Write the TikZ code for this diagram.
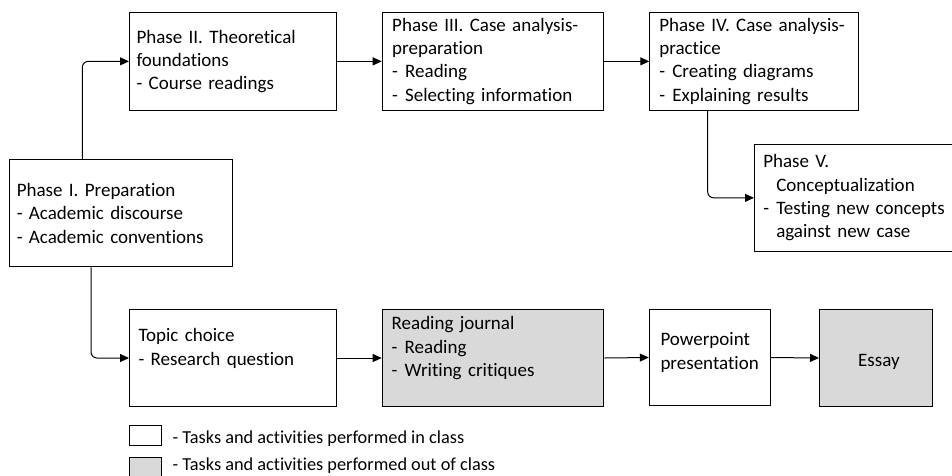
\documentclass[tikz,border=0pt]{standalone}
\usepackage{fontspec}
\setmainfont{Carlito}[Ligatures={NoCommon}]
\usetikzlibrary{arrows.meta}
\definecolor{boxgray}{HTML}{D9D9D9}
\newcommand\dashitem[1]{\mbox{\makebox[13pt][l]{-}#1}}
\tikzset{
  box/.style={draw=black, line width=1pt, inner ysep=0pt, align=left, anchor=north west,
    font=\fontsize{19}{23.3}\selectfont},
  arr/.style={draw=black, line width=1pt, -{Triangle[length=9pt,width=8pt]}},
  elbow/.style={arr, rounded corners=6pt},
  legtext/.style={anchor=base west, inner sep=0pt, font=\fontsize{18.3}{22}\selectfont},
  legbox/.style={draw=black, line width=1pt}
}
\begin{document}
\begin{tikzpicture}[x=1pt,y=-1pt]
\useasboundingbox (0,0) rectangle (952,475);
% top row
\node[box, minimum width=223pt, minimum height=107pt, text width=209pt, inner xsep=7pt] (p1) at (9.3,159.3)
  {Phase I. Preparation\\- Academic discourse\\- Academic conventions};
\node[box, minimum width=206.7pt, minimum height=98.3pt, text width=192.7pt, inner xsep=7pt] (p2) at (129,11.7)
  {Phase II. Theoretical\\foundations\\- Course readings};
\node[box, minimum width=221.6pt, minimum height=98.3pt, text width=201.6pt, inner xsep=10pt] (p3) at (381.7,11.7)
  {Phase III. Case analysis-\\preparation\\\dashitem{Reading}\\\dashitem{Selecting information}};
\node[box, minimum width=208.4pt, minimum height=98.3pt, text width=189.4pt, inner xsep=9.5pt] (p4) at (649.3,11.7)
  {Phase IV. Case analysis-\\practice\\\dashitem{Creating diagrams}\\\dashitem{Explaining results}};
\node[box, minimum width=197.5pt, minimum height=106.7pt, text width=180pt, inner xsep=8.75pt] (p5) at (754,144)
  {Phase V.\\\hspace*{13pt}Conceptualization\\\dashitem{Testing new concepts}\\\hspace*{13pt}against new case};
% bottom row
\node[box, minimum width=206.7pt, minimum height=96.4pt, text width=188.7pt, inner xsep=9pt] (topic) at (129,309.3)
  {Topic choice\\- Research question\rule[-22pt]{0pt}{22pt}};
\node[box, fill=boxgray, minimum width=221.6pt, minimum height=96.4pt, text width=202.6pt, inner xsep=9.5pt] (rj) at (381.7,309.3)
  {Reading journal\\\dashitem{Reading}\\\dashitem{Writing critiques}\rule[-23pt]{0pt}{23pt}};
\node[box, minimum width=120.7pt, minimum height=96.4pt, anchor=center] (pp) at (709.65,357.5)
  {Powerpoint\\presentation\rule[-13pt]{0pt}{13pt}};
\node[box, fill=boxgray, minimum width=112.7pt, minimum height=96.4pt, align=center] (essay) at (819,309.3)
  {\hspace*{6pt}\rule{0pt}{20pt}Essay};
% connectors
\draw[elbow] ([xshift=73pt]p1.north west) |- (p2.west);
\draw[arr] (p2.east) -- (p3.west);
\draw[arr] (p3.east) -- (p4.west);
\draw[elbow] ([xshift=58.4pt]p4.south west) |- (p5.west);
\draw[elbow] ([xshift=81.7pt]p1.south west) |- (topic.west);
\draw[arr] (topic.east) -- (rj.west);
\draw[arr] (rj.east) -- (pp.west);
\draw[arr] (pp.east) -- (essay.west);
% legend
\node[legbox, minimum width=32.2pt, minimum height=20pt, anchor=north west, inner sep=0pt] (lw) at (128.5,425) {};
\node[legbox, fill=boxgray, minimum width=32.2pt, minimum height=21pt, anchor=north west, inner sep=0pt] (lg) at (128.5,456.7) {};
\node[legtext] (lwt) at (172.5,443.5) {- Tasks and activities performed in class};
\node[legtext] (lgt) at (172.5,470.3) {- Tasks and activities performed out of class};
\end{tikzpicture}
\end{document}
